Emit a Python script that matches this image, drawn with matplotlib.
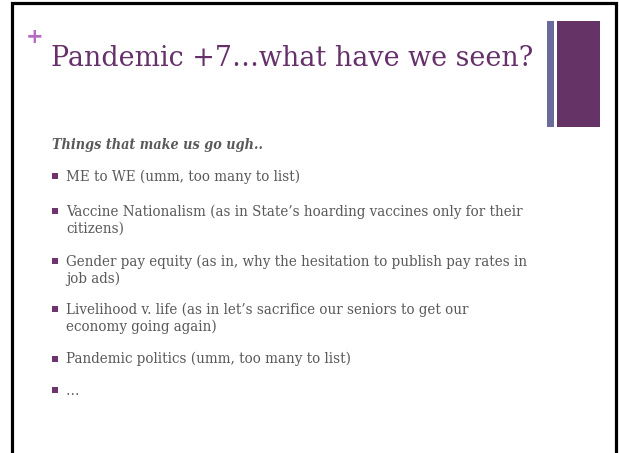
import matplotlib
matplotlib.use("Agg")
import matplotlib.pyplot as plt
from matplotlib.patches import Rectangle

# ---- content ----
title = "Pandemic +7\u2026what have we seen?"
subtitle = "Things that make us go ugh.."
items = [
    "ME to WE (umm, too many to list)",
    "Vaccine Nationalism (as in State\u2019s hoarding vaccines only for their\ncitizens)",
    "Gender pay equity (as in, why the hesitation to publish pay rates in\njob ads)",
    "Livelihood v. life (as in let\u2019s sacrifice our seniors to get our\neconomy going again)",
    "Pandemic politics (umm, too many to list)",
    "\u2026",
]
item_first_baselines = [180.5, 215.5, 265.5, 313.5, 363.5, 395]

# ---- style ----
W, H = 619, 453
purple = "#66306A"
bar_dark = "#663366"
bar_light = "#6B6B9B"
plus_col = "#B36CC0"
gray = "#595959"
bullet_col = "#6E3470"
serif = ["DejaVu Serif"]
line_step = 17  # pixels between wrapped lines

fig = plt.figure(figsize=(W / 100, H / 100), dpi=100)
ax = fig.add_axes([0, 0, 1, 1])
ax.set_xlim(0, W)
ax.set_ylim(H, 0)
ax.axis("off")

# slide frame
ax.plot([11.5, 11.5, 615.5, 615.5], [H + 5, 2.5, 2.5, H + 5], color="black",
        lw=2.3, solid_joinstyle="miter", clip_on=False)

# decorative bars
ax.add_patch(Rectangle((547, 21), 7, 106, color=bar_light, lw=0))
ax.add_patch(Rectangle((557, 21), 43, 106, color=bar_dark, lw=0))

# plus sign and title
ax.text(35, 37, "+", color=plus_col, fontsize=15, fontweight="bold",
        ha="center", va="center", family=["DejaVu Sans"])
ax.text(51, 66, title, color=purple, fontsize=19.4, family=serif,
        ha="left", va="baseline")

# subtitle
ax.text(52, 149, subtitle, color=gray, fontsize=10.3, family=serif,
        fontstretch="condensed", fontweight="bold", fontstyle="italic",
        ha="left", va="baseline")

# bullets and items (multi-line text is anchored at its last baseline)
for txt, yb in zip(items, item_first_baselines):
    n = txt.count("\n")
    ax.scatter([54.5], [yb - 5], marker="s", s=18, color=bullet_col, lw=0)
    ax.text(66, yb + n * line_step, txt, color=gray, fontsize=10.8, family=serif,
            fontstretch="condensed", ha="left", va="baseline", linespacing=1.2)

fig.savefig("out.png", dpi=100)
